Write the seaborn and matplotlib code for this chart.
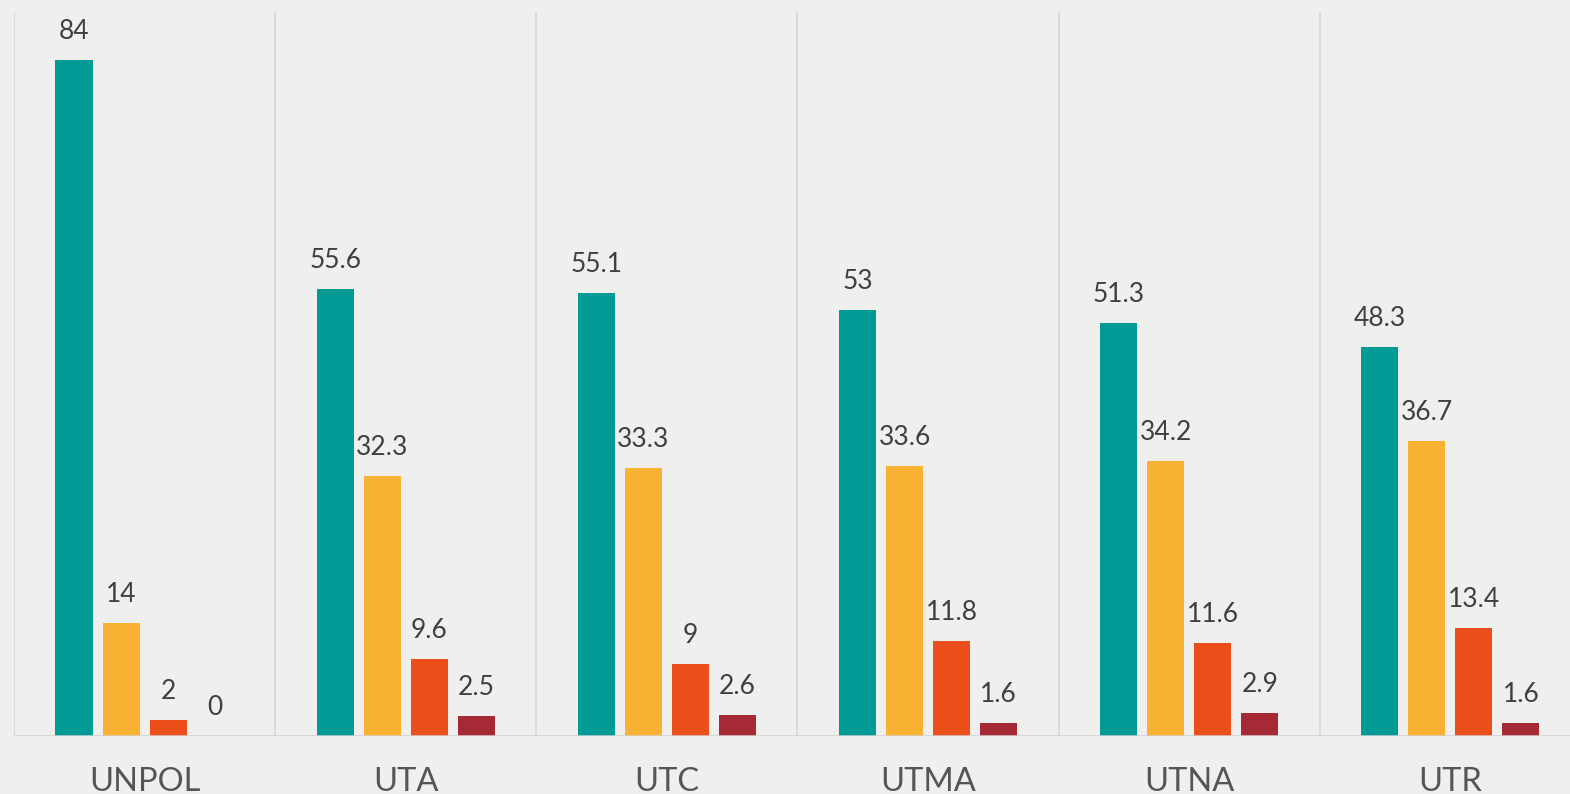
import numpy as np
import pandas as pd
import matplotlib
matplotlib.use("Agg")
import matplotlib.pyplot as plt
import seaborn as sns

# data
categories = ["UNPOL", "UTA", "UTC", "UTMA", "UTNA", "UTR"]
series_names = ["s1", "s2", "s3", "s4"]
s1 = [84, 55.6, 55.1, 53, 51.3, 48.3]
s2 = [14, 32.3, 33.3, 33.6, 34.2, 36.7]
s3 = [2, 9.6, 9, 11.8, 11.6, 13.4]
s4 = [0, 2.5, 2.6, 1.6, 2.9, 1.6]

colors = ["#009B95", "#F9B233", "#E94E1B", "#A52A36"]
bg = "#efefee"

rows = []
for name, vals in zip(series_names, [s1, s2, s3, s4]):
    for cat, v in zip(categories, vals):
        rows.append({"category": cat, "series": name, "value": v})
df = pd.DataFrame(rows)

sns.set_style("white")
plt.rcParams["font.family"] = ["Lato", "DejaVu Sans"]

fig = plt.figure(figsize=(15.7, 7.94), dpi=100)
fig.patch.set_facecolor(bg)
ax = fig.add_axes([14 / 1570, 58 / 794, 1 - 14 / 1570, 724 / 794])
ax.set_facecolor(bg)

sns.barplot(data=df, x="category", y="value", hue="series", order=categories,
            hue_order=series_names, palette=colors, width=0.72, gap=0.21,
            saturation=1, legend=False, linewidth=0, ax=ax)

ax.set_ylim(0, 90)
ax.set_xlim(-0.5, 5.458)

# group separators and baseline
ax.vlines(np.arange(len(categories)) - 0.5, 0, 90, color="#d8d8d8", lw=1.3, zorder=0)
ax.axhline(0, color="#d0d0d0", lw=1.8, zorder=3)

for cont in ax.containers:
    for bar in cont:
        h = bar.get_height()
        ax.annotate(f"{h:g}", (bar.get_x() + bar.get_width() / 2, h),
                    xytext=(0, 20.5), textcoords="offset points",
                    ha="center", va="center", fontsize=19, color="#3f3f3f")

for s in ax.spines.values():
    s.set_visible(False)
ax.set_xlabel("")
ax.set_ylabel("")
ax.set_yticks([])
ax.tick_params(axis="x", length=0, pad=22, labelsize=23.5, labelcolor="#555555")

fig.savefig("out.png", dpi=100, facecolor=bg)
